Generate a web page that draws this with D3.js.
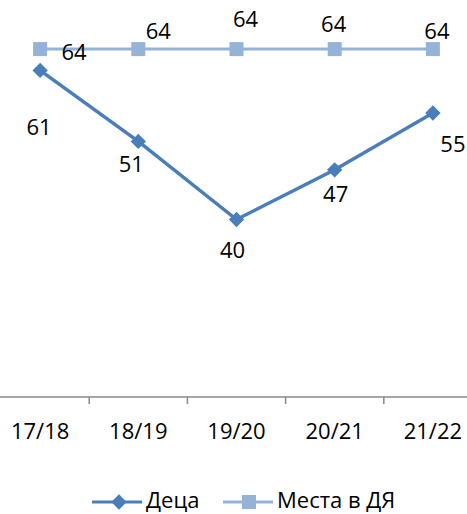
<!DOCTYPE html>
<html>
<head>
<meta charset="utf-8">
<script src="https://cdn.jsdelivr.net/npm/d3@7"></script>
<style>
    body { margin: 0; background: #fff; }
    text { font-family: "Open Sans", sans-serif; font-size: 22px; fill: #000; }
</style>
</head>
<body>
<svg id="chart"></svg>
<script>
const years = ['17/18', '18/19', '19/20', '20/21', '21/22'];
const deca = [61, 51, 40, 47, 55];
const mesta = [64, 64, 64, 64, 64];
const seriesNames = ['Деца', 'Места в ДЯ'];

// hand placed data labels, [dx, dy] from the point
const decaLabelOff = [[-1, 65], [-7, 31], [-4, 38], [1, 32], [20, 39]];
const mestaLabelOff = [[34, 11], [20, -10], [9, -22], [-1, -17], [4, -10]];

const width = 467, height = 514;
const decaColor = '#4a7ebb', mestaColor = '#95b3d7';

const svg = d3.select('#chart')
    .attr('width', width)
    .attr('height', height);

const x = d3.scaleBand()
    .domain(years)
    .range([-9, 482])
    .padding(0);
const y = d3.scaleLinear()
    .domain([15, 70])
    .range([397, 6.5]);
const cx = d => x(d) + x.bandwidth()/2;

// axis
const axisY = y(15);
svg.append('line')
    .attr('x1', 0).attr('x2', width)
    .attr('y1', axisY).attr('y2', axisY)
    .style('stroke', '#898989').style('stroke-width', 1.5);
svg.append('g').selectAll('line')
    .data(years.slice(1))
    .join('line')
        .attr('x1', d => x(d)).attr('x2', d => x(d))
        .attr('y1', axisY).attr('y2', axisY + 7)
        .style('stroke', '#898989').style('stroke-width', 1.5);
svg.append('g')
    .attr('transform', `translate(0,${axisY})`)
    .call(d3.axisBottom(x).tickSize(0).tickPadding(26))
    .call(g => g.select('.domain').remove())
    .selectAll('text')
        .style('font-family', '"Open Sans", sans-serif')
        .style('font-size', '22px')
        .attr('fill', '#000');

const line = d3.line()
    .x((d, i) => cx(years[i]))
    .y(d => y(d));

// Места в ДЯ
svg.append('path')
    .datum(mesta)
    .attr('d', line)
    .style('fill', 'none').style('stroke', mestaColor).style('stroke-width', 3);
svg.append('g').selectAll('rect')
    .data(mesta)
    .join('rect')
        .attr('x', (d, i) => cx(years[i]) - 7)
        .attr('y', d => y(d) - 7)
        .attr('width', 14).attr('height', 14)
        .style('fill', mestaColor);

// Деца
svg.append('path')
    .datum(deca)
    .attr('d', line)
    .style('fill', 'none').style('stroke', decaColor).style('stroke-width', 3.5);
const diamond = d3.symbol().type(d3.symbolDiamond2).size(150);
svg.append('g').selectAll('path')
    .data(deca)
    .join('path')
        .attr('d', diamond)
        .attr('transform', (d, i) => `translate(${cx(years[i])},${y(d)})`)
        .style('fill', decaColor);

// data labels
svg.append('g').selectAll('text')
    .data(mesta)
    .join('text')
        .attr('text-anchor', 'middle')
        .attr('x', (d, i) => cx(years[i]) + mestaLabelOff[i][0])
        .attr('y', (d, i) => y(d) + mestaLabelOff[i][1])
        .text(d => d);
svg.append('g').selectAll('text')
    .data(deca)
    .join('text')
        .attr('text-anchor', 'middle')
        .attr('x', (d, i) => cx(years[i]) + decaLabelOff[i][0])
        .attr('y', (d, i) => y(d) + decaLabelOff[i][1])
        .text(d => d);

// legend
const legend = svg.append('g').attr('transform', 'translate(0,502)');
const legItems = [
    {name: seriesNames[0], color: decaColor, x0: 92, sym: 'diamond'},
    {name: seriesNames[1], color: mestaColor, x0: 223, sym: 'square'}
];
legItems.forEach(it => {
    legend.append('line')
        .attr('x1', it.x0).attr('x2', it.x0 + 50)
        .attr('y1', 0).attr('y2', 0)
        .style('stroke', it.color).style('stroke-width', 3);
    if (it.sym === 'diamond') {
        legend.append('path')
            .attr('d', diamond)
            .attr('transform', `translate(${it.x0 + 27},0)`)
            .style('fill', it.color);
    } else {
        legend.append('rect')
            .attr('x', it.x0 + 19).attr('y', -7)
            .attr('width', 14).attr('height', 14)
            .style('fill', it.color);
    }
    legend.append('text')
        .attr('x', it.x0 + 54)
        .attr('y', 6)
        .text(it.name);
});
</script>
</body>
</html>
